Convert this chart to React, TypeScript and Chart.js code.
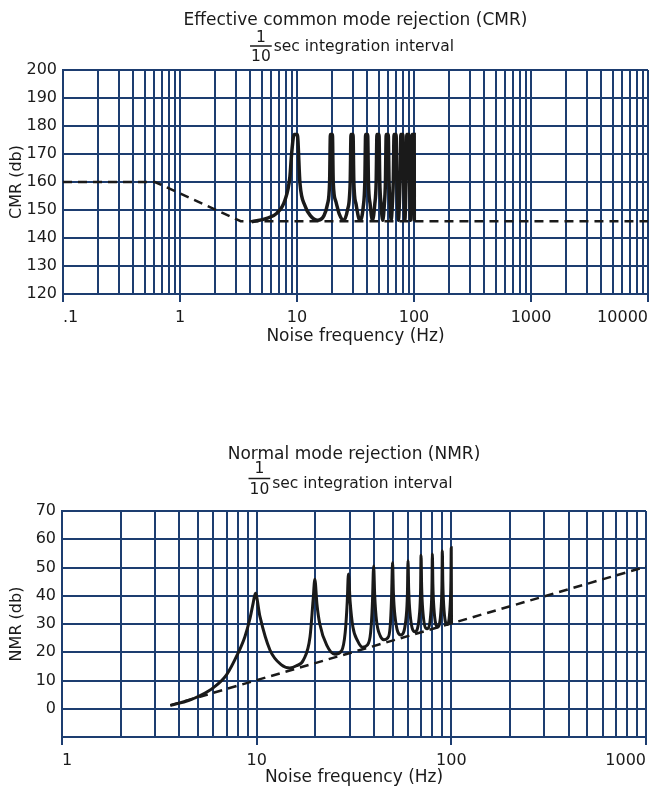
import { useEffect, useRef } from "react";
import { Chart, registerables } from "chart.js";

Chart.register(...registerables);

const FONT = "DejaVu Sans";
const GRID = "#1d3d70";
const INK = "#1a1a1a";

// ---- texts ----
const cmrTitle = "Effective common mode rejection (CMR)";
const nmrTitle = "Normal mode rejection (NMR)";
const subNumerator = "1";
const subDenominator = "10";
const subText = "sec integration interval";
const xAxisTitle = "Noise frequency (Hz)";
const cmrAxisTitle = "CMR (db)";
const nmrAxisTitle = "NMR (db)";

// ---- tick labels ----
const cmrDecades = [0.1, 1, 10, 100, 1000, 10000];
const cmrDecadeLabels = [".1", "1", "10", "100", "1000", "10000"];
const nmrDecades = [1, 10, 100, 1000];
const nmrDecadeLabels = ["1", "10", "100", "1000"];
const minorSteps = [1, 2, 3, 4, 5, 6, 7, 8, 9];
const cmrYRange = [120, 200];
const nmrYRange = [-10, 70];
const nmrHiddenLabels = [-10];

// ---- CMR series ----
const cmrDashFreq = [0.1, 0.61, 3.3, 10000];
const cmrDashDb = [160, 160, 146, 146];
const cmrFreq = [
  4.1, 5.5, 6.7, 7.9, 8.7, 9.0, 9.45, 10.05,
  10.6, 11.7, 13, 15, 17, 18.2, 19.0, 19.3, 20.08, 20.4,
  21.5, 23, 25, 27, 28.5, 28.95, 30.12, 30.6,
  32, 34.5, 36.8, 38, 38.6, 40.16, 40.8,
  42.2, 44.2, 46.2, 47.5, 48.25, 50.2, 51,
  52.3, 54, 55.8, 57, 57.9, 60.24, 61.2,
  62.4, 63.8, 65.3, 66.5, 67.55, 70.28, 71.4,
  72.5, 73.7, 74.9, 76, 77.2, 80.32, 81.6,
  83.5, 85.5, 86.85, 90.36, 91.8,
  93.4, 95, 96.5, 100.4, 100.6,
];
const cmrDb = [
  145.8, 147, 148.8, 153.6, 161.9, 170.2, 177, 177,
  159.5, 151.5, 148, 146.3, 148, 152, 160, 177, 177, 160,
  153, 148.5, 146.3, 150, 160, 177, 177, 160,
  152, 146.3, 151, 160, 177, 177, 160,
  152, 146.3, 152, 160, 177, 177, 160,
  152, 146.3, 152, 160, 177, 177, 160,
  152, 146.3, 152, 160, 177, 177, 160,
  152, 146.3, 152, 160, 177, 177, 160,
  146.3, 160, 177, 177, 160,
  146.3, 160, 177, 177, 146,
];

// ---- NMR series ----
const nmrDashFreq = [3.6, 1000];
const nmrDashDb = [1.2, 50.3];
const nmrFreq = [
  3.6, 4.5, 5.1, 6, 7, 8, 8.7, 9.24, 9.6, 9.85,
  10.4, 11.7, 13.4, 14.8, 16, 17.4, 18.8, 19.5, 19.9,
  20.4, 21.1, 22.9, 25.2, 27.3, 28.5, 29.2, 29.6,
  30.2, 31.2, 33, 35, 37, 38.5, 39.3, 39.9,
  40.4, 41.3, 43, 45, 47, 48.5, 49.3, 49.9,
  50.4, 51.3, 55, 58.7, 59.5, 59.9,
  60.4, 61.3, 65, 68.7, 69.5, 69.9,
  70.4, 71.3, 75, 78.7, 79.5, 79.9,
  80.4, 81.3, 85, 88.7, 89.5, 89.9,
  90.4, 91.3, 95, 98.7, 99.5, 99.9, 100.2,
];
const nmrDb = [
  1.2, 3.0, 4.6, 7.5, 12, 19.5, 25.5, 32, 37.5, 40.9,
  32.6, 20.8, 15.5, 14.4, 15.2, 17.3, 25.5, 38.5, 45.8,
  37, 30, 22.5, 19.3, 20.5, 27, 38, 47.7,
  38, 29, 24, 21.8, 22.5, 27, 37, 50.5,
  40, 31, 26, 24.4, 25, 29, 39, 51.8,
  41, 33, 26.1, 33, 41, 52.4,
  42, 34, 27.3, 34, 42, 54.3,
  43, 35, 28.3, 35, 43, 54.8,
  44, 36, 29, 36, 44, 55.9,
  45, 37, 29.8, 37, 45, 57, 30,
];

const toPoints = (xs: number[], ys: number[]) => xs.map((x, i) => ({ x, y: ys[i] }));

const fractionPlugin = {
  id: "fractionSubtitle",
  afterDraw(chart: any, _args: any, opts: any) {
    const { ctx, chartArea } = chart;
    ctx.save();
    ctx.fillStyle = opts.color;
    ctx.strokeStyle = opts.color;
    ctx.font = `${opts.size}px "${opts.family}"`;
    const fw = ctx.measureText(opts.denominator).width;
    const tw = ctx.measureText(opts.text).width;
    const total = fw + opts.gap + tw;
    const cx = (chartArea.left + chartArea.right) / 2 + opts.shift;
    const x0 = cx - total / 2;
    ctx.textAlign = "center";
    ctx.textBaseline = "middle";
    ctx.fillText(opts.numerator, x0 + fw / 2, opts.numY);
    ctx.fillText(opts.denominator, x0 + fw / 2, opts.denY);
    ctx.lineWidth = 1.5;
    ctx.beginPath();
    ctx.moveTo(x0 - 1, opts.barY);
    ctx.lineTo(x0 + fw + 1, opts.barY);
    ctx.stroke();
    ctx.textAlign = "left";
    ctx.textBaseline = "alphabetic";
    ctx.fillText(opts.text, x0 + fw + opts.gap, opts.textY);
    ctx.restore();
  },
};

function logTicks(decades: number[]) {
  const values: number[] = [];
  decades.slice(0, -1).forEach((d) =>
    minorSteps.forEach((m) => values.push(Number((d * m).toPrecision(6))))
  );
  values.push(decades[decades.length - 1]);
  return values.map((v) => ({ value: v, major: decades.includes(v) }));
}

interface Layout {
  title: string;
  yTitle: string;
  decades: number[];
  decadeLabels: string[];
  yRange: number[];
  hidden: number[];
  dashFreq: number[];
  dashDb: number[];
  freq: number[];
  db: number[];
  solidWidth: number;
  yAxisWidth: number;
  xAxisHeight: number;
  padRight: number;
  titlePadTop: number;
  titlePadBottom: number;
  numY: number;
  barY: number;
  denY: number;
  textY: number;
}

function makeConfig(L: Layout): any {
  return {
    type: "line",
    data: {
      datasets: [
        {
          data: toPoints(L.dashFreq, L.dashDb),
          borderColor: INK,
          borderWidth: 2.5,
          borderDash: [9, 6],
          pointRadius: 0,
          tension: 0,
        },
        {
          data: toPoints(L.freq, L.db),
          borderColor: INK,
          borderWidth: L.solidWidth,
          pointRadius: 0,
          cubicInterpolationMode: "monotone",
        },
      ],
    },
    plugins: [fractionPlugin],
    options: {
      responsive: false,
      animation: false,
      events: [],
      layout: { padding: { left: 0, right: L.padRight, top: 0, bottom: 0 } },
      plugins: {
        legend: { display: false },
        tooltip: { enabled: false },
        title: {
          display: true,
          text: L.title,
          fullSize: false,
          color: INK,
          font: { family: FONT, size: 17, weight: "normal", lineHeight: 1.2 },
          padding: { top: L.titlePadTop, bottom: L.titlePadBottom },
        },
        fractionSubtitle: {
          numerator: subNumerator,
          denominator: subDenominator,
          text: subText,
          color: INK,
          family: FONT,
          size: 15.5,
          gap: 3,
          shift: -3,
          numY: L.numY,
          barY: L.barY,
          denY: L.denY,
          textY: L.textY,
        },
      },
      scales: {
        x: {
          type: "logarithmic",
          min: L.decades[0],
          max: L.decades[L.decades.length - 1],
          afterBuildTicks: (scale: any) => {
            scale.ticks = logTicks(L.decades);
          },
          afterFit: (scale: any) => {
            scale.height = L.xAxisHeight;
          },
          ticks: {
            autoSkip: false,
            maxRotation: 0,
            align: "inner",
            padding: 6,
            color: INK,
            font: { family: FONT, size: 16 },
            callback: (v: number) => {
              const i = L.decades.indexOf(Number(v));
              return i >= 0 ? L.decadeLabels[i] : "";
            },
          },
          grid: {
            color: GRID,
            lineWidth: 2,
            tickLength: 8,
            tickWidth: 2,
            tickColor: (ctx: any) =>
              ctx.tick && L.decades.includes(ctx.tick.value) ? GRID : "rgba(0,0,0,0)",
          },
          border: { display: true, color: GRID, width: 2 },
          title: {
            display: true,
            text: xAxisTitle,
            color: INK,
            font: { family: FONT, size: 17, lineHeight: 1.2 },
            padding: { top: 0, bottom: 3 },
          },
        },
        y: {
          type: "linear",
          min: L.yRange[0],
          max: L.yRange[1],
          afterFit: (scale: any) => {
            scale.width = L.yAxisWidth;
          },
          ticks: {
            stepSize: 10,
            padding: 6,
            color: INK,
            font: { family: FONT, size: 16 },
            callback: (v: number) => (L.hidden.includes(Number(v)) ? "" : String(v)),
          },
          grid: { color: GRID, lineWidth: 2, drawTicks: false },
          border: { display: true, color: GRID, width: 2 },
          title: {
            display: true,
            text: L.yTitle,
            color: INK,
            font: { family: FONT, size: 16, lineHeight: 1.2 },
            padding: { top: 7.4, bottom: 0 },
          },
        },
      },
    },
  };
}

const topLayout: Layout = {
  title: cmrTitle,
  yTitle: cmrAxisTitle,
  decades: cmrDecades,
  decadeLabels: cmrDecadeLabels,
  yRange: cmrYRange,
  hidden: [],
  dashFreq: cmrDashFreq,
  dashDb: cmrDashDb,
  freq: cmrFreq,
  db: cmrDb,
  solidWidth: 3.5,
  yAxisWidth: 63,
  xAxisHeight: 56,
  padRight: 7,
  titlePadTop: 10,
  titlePadBottom: 39.6,
  numY: 37.5,
  barY: 46,
  denY: 56.5,
  textY: 51,
};

const bottomLayout: Layout = {
  title: nmrTitle,
  yTitle: nmrAxisTitle,
  decades: nmrDecades,
  decadeLabels: nmrDecadeLabels,
  yRange: nmrYRange,
  hidden: nmrHiddenLabels,
  dashFreq: nmrDashFreq,
  dashDb: nmrDashDb,
  freq: nmrFreq,
  db: nmrDb,
  solidWidth: 3,
  yAxisWidth: 62,
  xAxisHeight: 54,
  padRight: 9,
  titlePadTop: 49.4,
  titlePadBottom: 46.2,
  numY: 74,
  barY: 83.5,
  denY: 95,
  textY: 93,
};

function ChartCanvas({ layout, top, height }: { layout: Layout; top: number; height: number }) {
  const ref = useRef<HTMLCanvasElement>(null);
  useEffect(() => {
    const chart = new Chart(ref.current as HTMLCanvasElement, makeConfig(layout));
    return () => chart.destroy();
  }, [layout]);
  return (
    <canvas
      ref={ref}
      width={655}
      height={height}
      style={{ position: "absolute", left: 0, top, width: 655, height, display: "block" }}
    />
  );
}

export default function App() {
  return (
    <div
      style={{
        position: "absolute",
        left: 0,
        top: 0,
        width: 655,
        height: 791,
        background: "#ffffff",
        overflow: "hidden",
      }}
    >
      <ChartCanvas layout={topLayout} top={0} height={350} />
      <ChartCanvas layout={bottomLayout} top={395} height={396} />
    </div>
  );
}
